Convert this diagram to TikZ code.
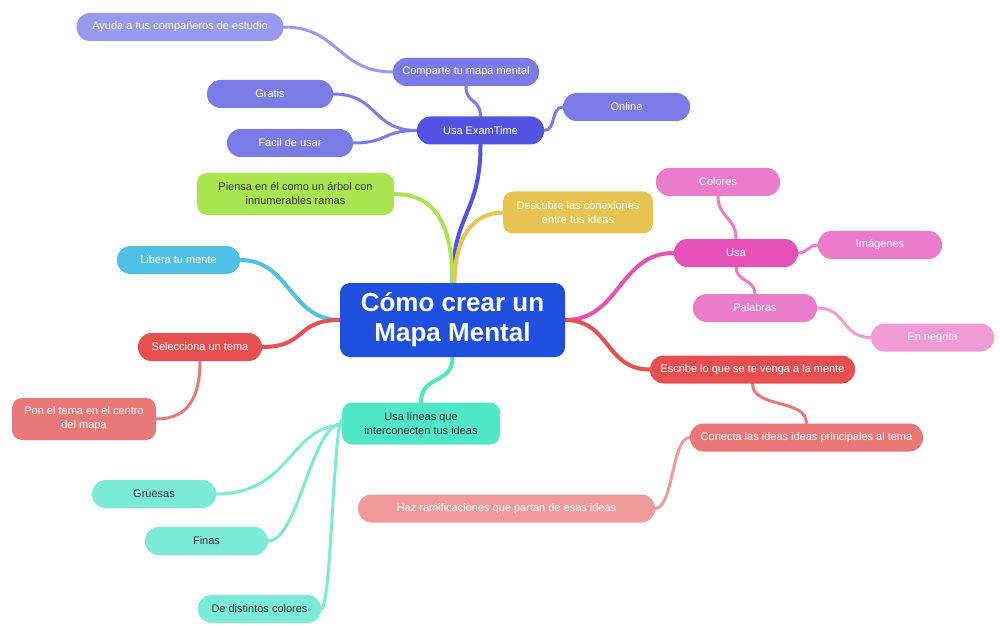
\documentclass[tikz,border=0pt]{standalone}
\usepackage{fontspec}
\setmainfont{Liberation Sans}
\usetikzlibrary{backgrounds}
\definecolor{cCentral}{HTML}{1F4FDF}
\definecolor{cExam}{HTML}{5353E3}
\definecolor{cExamL}{HTML}{7B7BE8}
\definecolor{cExamLL}{HTML}{9999EE}
\definecolor{cGreen}{HTML}{A9E550}
\definecolor{cYellow}{HTML}{E7C452}
\definecolor{cSky}{HTML}{4FC1E6}
\definecolor{cRed}{HTML}{E65050}
\definecolor{cRedL}{HTML}{EB7878}
\definecolor{cRedLL}{HTML}{F09A9A}
\definecolor{cTeal}{HTML}{50E6C8}
\definecolor{cTealL}{HTML}{7BEBD8}
\definecolor{cPink}{HTML}{E650B8}
\definecolor{cPinkL}{HTML}{EB7BCB}
\definecolor{cPinkLL}{HTML}{F09AD6}
\definecolor{cDark}{HTML}{3A3A3A}
\tikzset{
  base/.style={inner sep=0pt, align=center, text=white, font=\fontsize{11}{14}\selectfont},
  pill/.style={base, rounded corners=13.5pt, minimum height=28pt},
  rbox/.style={base, rounded corners=10pt, minimum height=42pt},
  conn/.style={line width=3pt, line cap=round},
  mainconn/.style={line width=4pt, line cap=round},
}
\begin{document}
\begin{tikzpicture}[x=1pt,y=-1pt]
\useasboundingbox (0,0) rectangle (1000,628);
% central
\node[base, fill=cCentral, rounded corners=10pt, minimum width=225pt, minimum height=74pt,
      font=\fontsize{26}{30}\selectfont\bfseries] (central) at (452.5,320) {Cómo crear un\\Mapa Mental};
% top branch
\node[pill, fill=cExam, minimum width=127pt] (exam) at (480.5,130.5) {Usa ExamTime};
\node[pill, fill=cExamL, minimum width=146pt] (comparte) at (466,72) {Comparte tu mapa mental};
\node[pill, fill=cExamLL, minimum width=207pt] (ayuda) at (180,27) {Ayuda a tus compañeros de estudio};
\node[pill, fill=cExamL, minimum width=126pt] (gratis) at (270,94) {Gratis};
\node[pill, fill=cExamL, minimum width=126pt] (facil) at (290,143) {Fácil de usar};
\node[pill, fill=cExamL, minimum width=127pt] (online) at (626.5,107) {Online};
% green & yellow
\node[rbox, fill=cGreen, text=cDark, minimum width=197pt] (piensa) at (295.5,194) {Piensa en él como un árbol con\\innumerables ramas};
\node[rbox, fill=cYellow, minimum width=150pt] (descubre) at (578,212.5) {Descubre las conexiones\\entre tus ideas};
% left
\node[pill, fill=cSky, minimum width=123pt] (libera) at (178.5,260) {Libera tu mente};
\node[pill, fill=cRed, minimum width=124pt] (selec) at (200,347) {Selecciona un tema};
\node[rbox, fill=cRedL, minimum width=144pt] (pon) at (84,419) {Pon el tema en el centro\\del mapa};
% bottom teal
\node[rbox, fill=cTeal, text=cDark, minimum width=158pt] (lineas) at (421,423.5) {Usa líneas que\\interconecten tus ideas};
\node[pill, fill=cTealL, text=cDark, minimum width=124pt] (gruesas) at (154,494) {Gruesas};
\node[pill, fill=cTealL, text=cDark, minimum width=123pt] (finas) at (206.5,541) {Finas};
\node[pill, fill=cTealL, text=cDark, minimum width=123pt] (colores2) at (259.5,609) {De distintos colores};
% right pink
\node[pill, fill=cPink, minimum width=124pt] (usa) at (736,253) {Usa};
\node[pill, fill=cPinkL, minimum width=124pt] (colores) at (718,182) {Colores};
\node[pill, fill=cPinkL, minimum width=124pt] (imagenes) at (880,245) {Imágenes};
\node[pill, fill=cPinkL, minimum width=124pt] (palabras) at (755,308) {Palabras};
\node[pill, fill=cPinkLL, minimum width=123pt] (negrita) at (932.5,337.5) {En negrita};
% right red
\node[pill, fill=cRed, minimum width=205pt] (escribe) at (752.5,369.5) {Escribe lo que se te venga a la mente};
\node[pill, fill=cRedL, minimum width=233pt] (conecta) at (806.5,437.5) {Conecta las ideas ideas principales al tema};
\node[pill, fill=cRedLL, minimum width=297pt] (haz) at (506.5,508.5) {Haz ramificaciones que partan de esas ideas};

\begin{pgfonlayer}{background}
% from central
\draw[mainconn, cExam] (central.north) .. controls +(0,-70) and +(0,70) .. (exam.south);
\draw[mainconn, cGreen] (central.north) .. controls +(0,-60) and +(40,0) .. (piensa.east);
\draw[mainconn, cYellow] ([xshift=2pt]central.north) .. controls +(0,-45) and +(-30,0) .. (descubre.west);
\draw[mainconn, cSky] (central.west) .. controls +(-50,0) and +(50,0) .. (libera.east);
\draw[mainconn, cRed] (central.west) .. controls +(-45,0) and +(45,0) .. (selec.east);
\draw[mainconn, cTeal] (central.south) .. controls +(0,28) and +(0,-28) .. (lineas.north);
\draw[mainconn, cPink] (central.east) .. controls +(55,0) and +(-55,0) .. (usa.west);
\draw[mainconn, cRed] (central.east) .. controls +(45,0) and +(-45,0) .. (escribe.west);
% exam subtree
\draw[conn, cExamL] (exam.north) .. controls +(0,-18) and +(0,18) .. (comparte.south);
\draw[conn, cExamLL] (comparte.west) .. controls +(-55,0) and +(55,0) .. (ayuda.east);
\draw[conn, cExamL] (exam.west) .. controls +(-45,0) and +(45,0) .. (gratis.east);
\draw[conn, cExamL] (exam.west) .. controls +(-35,0) and +(35,0) .. (facil.east);
\draw[conn, cExamL] (exam.east) .. controls +(12,0) and +(-12,0) .. (online.west);
% left subtree
\draw[conn, cRedL] (selec.south) .. controls +(0,45) and +(25,0) .. (pon.east);
% teal subtree
\draw[conn, cTealL] ([yshift=-2pt]lineas.west) .. controls +(-52,0) and +(75,0) .. (gruesas.east);
\draw[conn, cTealL] (lineas.west) .. controls +(-30,0) and +(30,0) .. (finas.east);
\draw[conn, cTealL] ([yshift=3pt]lineas.west) .. controls +(-8,0) and +(10,0) .. (colores2.east);
% pink subtree
\draw[conn, cPinkL] (usa.north) .. controls +(0,-22) and +(0,22) .. (colores.south);
\draw[conn, cPinkL] (usa.south) .. controls +(0,14) and +(0,-14) .. (palabras.north);
\draw[conn, cPinkL] (usa.east) .. controls +(10,0) and +(-10,0) .. (imagenes.west);
\draw[conn, cPinkLL] (palabras.east) .. controls +(30,0) and +(-30,0) .. (negrita.west);
% red subtree
\draw[conn, cRedL] (escribe.south) .. controls +(0,25) and +(0,-25) .. (conecta.north);
\draw[conn, cRedLL] (conecta.west) .. controls +(-18,0) and +(18,0) .. (haz.east);
\end{pgfonlayer}
\end{tikzpicture}
\end{document}
